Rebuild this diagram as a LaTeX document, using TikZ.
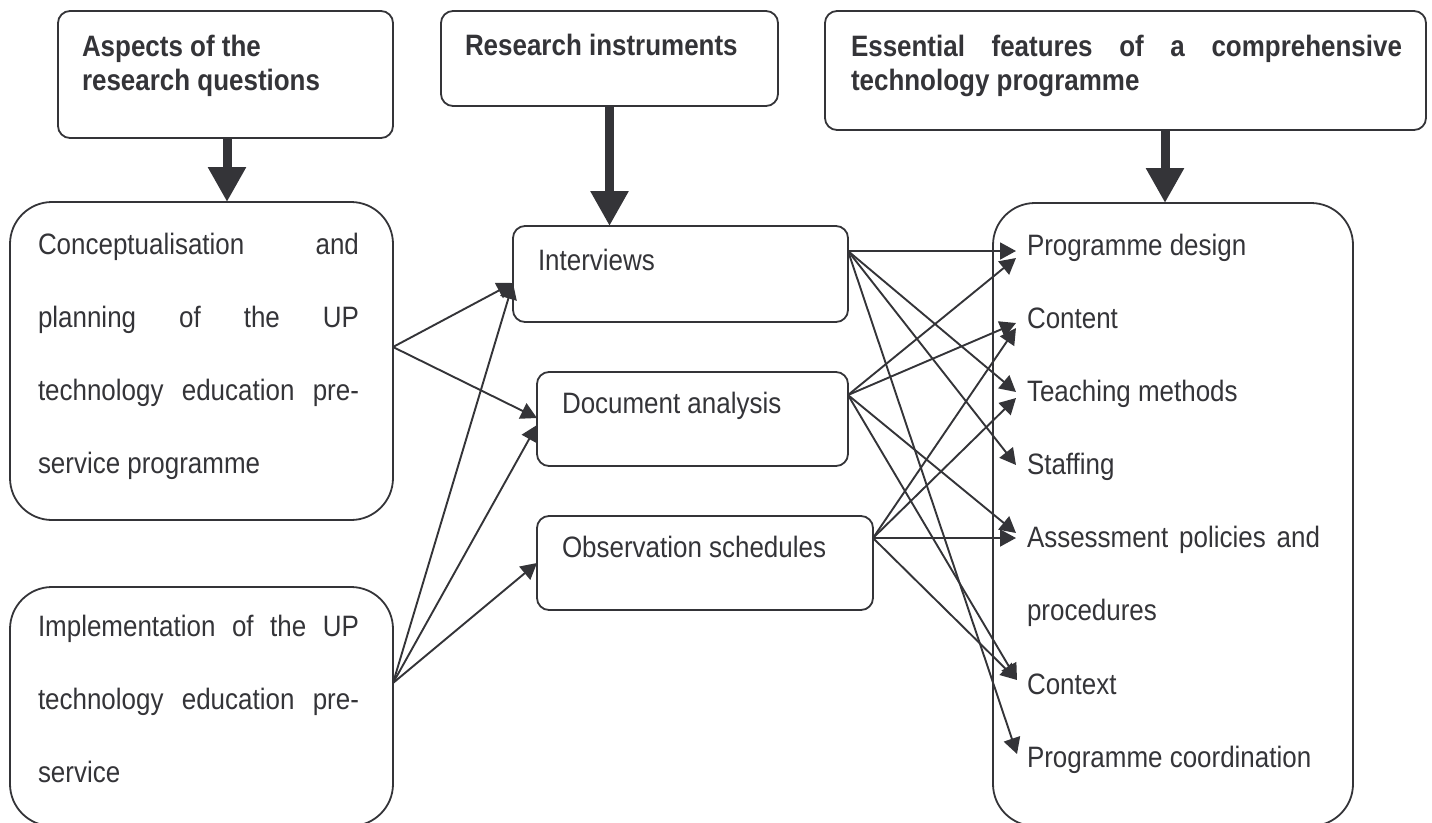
\documentclass[tikz,border=0pt]{standalone}
\usepackage{fontspec}
\setmainfont{Liberation Sans}[FakeStretch=0.88]
\usetikzlibrary{arrows.meta}
\definecolor{ink}{RGB}{52,52,56}
\begin{document}
\begin{tikzpicture}[x=1pt, y=-1pt,
  every node/.style={inner sep=0pt, outer sep=0pt, text=ink,
    font=\fontsize{29.5}{35}\selectfont},
  box/.style={draw=ink, line width=1.8pt, rounded corners=12pt},
  bigbox/.style={draw=ink, line width=1.8pt, rounded corners=42pt},
  label/.style={anchor=base west},
  head/.style={anchor=base west, font=\fontsize{29.5}{35}\selectfont\bfseries},
  bigarrow/.style={draw=ink, line width=9pt,
    -{Triangle[length=35pt, width=36pt]}},
  conn/.style={draw=ink, line width=1.9pt,
    -{Triangle[length=16pt, width=17pt]}}]
\useasboundingbox (0,0) rectangle (1432,822);

% heading boxes
\node[box, minimum width=335pt, minimum height=127pt] (A) at (225.5,74.5) {};
\node[box, minimum width=337pt, minimum height=95pt]  (D) at (609.5,58.5) {};
\node[box, minimum width=601pt, minimum height=119pt] (E) at (1125.5,70.5) {};

\node[head] (a1) at (82,56) {Aspects of the};
\node[head] (a2) at (82,90) {research questions};
\node[head] (d1) at (465,55) {Research instruments};
\node[head] (e1) at (851,56) {\makebox[551pt][s]{Essential features of a comprehensive}};
\node[head] (e2) at (851,90) {technology programme};

% research question boxes
\node[bigbox, minimum width=383pt, minimum height=318pt] (B) at (201.5,361) {};
\node[bigbox, minimum width=383pt, minimum height=239pt] (C) at (201.5,706.5) {};

\node[label] (b1) at (38,254) {\makebox[321pt][s]{Conceptualisation and}};
\node[label] (b2) at (38,327) {\makebox[321pt][s]{planning of the UP}};
\node[label] (b3) at (38,400) {\makebox[321pt][s]{technology education pre-}};
\node[label] (b4) at (38,473) {service programme};

\node[label] (c1) at (38,636) {\makebox[321pt][s]{Implementation of the UP}};
\node[label] (c2) at (38,709) {\makebox[321pt][s]{technology education pre-}};
\node[label] (c3) at (38,782) {service};

% instrument boxes
\node[box, minimum width=335pt, minimum height=96pt] (I) at (680.5,274) {};
\node[box, minimum width=311pt, minimum height=94pt] (Dc) at (692.5,419) {};
\node[box, minimum width=336pt, minimum height=94pt] (O) at (705,563) {};

\node[label] (i1) at (538,270) {Interviews};
\node[label] (dc1) at (562,413) {Document analysis};
\node[label] (o1) at (562,557) {Observation schedules};

% feature box
\node[bigbox, minimum width=360pt, minimum height=623pt] (F) at (1173,514.5) {};

\node[label] (f1) at (1027,255) {Programme design};
\node[label] (f2) at (1027,328) {Content};
\node[label] (f3) at (1027,401) {Teaching methods};
\node[label] (f4) at (1027,474) {Staffing};
\node[label] (f5) at (1027,547) {\makebox[293pt][s]{Assessment policies and}};
\node[label] (f6) at (1027,620) {procedures};
\node[label] (f7) at (1027,694) {Context};
\node[label] (f8) at (1027,767) {Programme coordination};

% heavy arrows from the headings
\draw[bigarrow] (A.south -| 227,0) -- (227,0 |- B.north);
\draw[bigarrow] (D.south) -- (D.south |- I.north);
\draw[bigarrow] (E.south -| 1165,0) -- (1165,0 |- F.north);

% connector end points
\coordinate (sB) at (393,347);
\coordinate (sC) at (393,683);
\coordinate (tI) at (513,283);
\coordinate (tD1) at (537,418);
\coordinate (tD2) at (537,425);
\coordinate (tO) at (537,563);

\coordinate (sI) at (848,251);
\coordinate (sD) at (848,395);
\coordinate (sO) at (873,538);
\coordinate (tPD1) at (1016,251);
\coordinate (tPD2) at (1016,258);
\coordinate (tC1) at (1016,323);
\coordinate (tC2) at (1016,328);
\coordinate (tT1) at (1016,392);
\coordinate (tT2) at (1016,398);
\coordinate (tS) at (1016,465);
\coordinate (tA1) at (1016,533);
\coordinate (tA2) at (1016,538);
\coordinate (tX) at (1017,680);
\coordinate (tPC) at (1017,754);

% research questions to instruments
\draw[conn] (sB) -- (tI);
\draw[conn] (sB) -- (tD1);
\draw[conn] (sC) -- (tI);
\draw[conn] (sC) -- (tD2);
\draw[conn] (sC) -- (tO);

% instruments to features
\draw[conn] (sI) -- (tPD1);
\draw[conn] (sI) -- (tT1);
\draw[conn] (sI) -- (tS);
\draw[conn] (sI) -- (tPC);

\draw[conn] (sD) -- (tPD2);
\draw[conn] (sD) -- (tC1);
\draw[conn] (sD) -- (tA1);
\draw[conn] (sD) -- (tX);

\draw[conn] (sO) -- (tC2);
\draw[conn] (sO) -- (tT2);
\draw[conn] (sO) -- (tA2);
\draw[conn] (sO) -- (tX);
\end{tikzpicture}
\end{document}
